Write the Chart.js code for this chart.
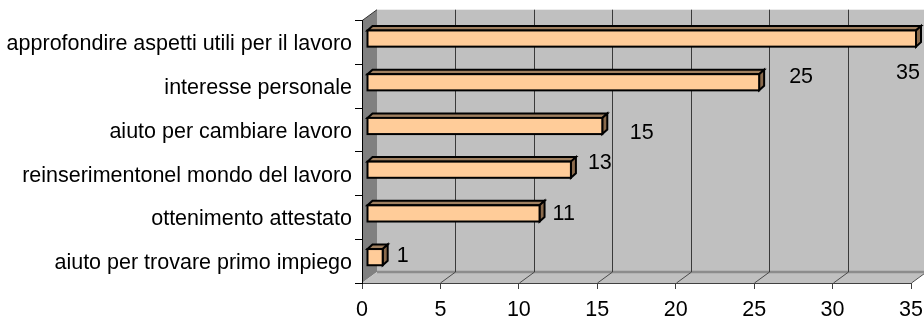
<!DOCTYPE html>
<html>
<head>
<meta charset="utf-8">
<script src="https://cdn.jsdelivr.net/npm/chart.js@4/dist/chart.umd.min.js"></script>
<style>
  html, body { margin: 0; padding: 0; background: #ffffff; }
  canvas { display: block; }
</style>
</head>
<body>
<canvas id="chart" width="924" height="320"></canvas>
<script>
// Categories, top to bottom
const categories = [
  'approfondire aspetti utili per il lavoro',
  'interesse personale',
  'aiuto per cambiare lavoro',
  'reinserimentonel mondo del lavoro',
  'ottenimento attestato',
  'aiuto per trovare primo impiego'
];
// Number of answers per category
const answers = [35, 25, 15, 13, 11, 1];
// Value axis ticks
const axisMin = 0;
const axisMax = 35;
const axisStep = 5;

const FONT = { family: "'Liberation Sans', Arial, sans-serif", size: 21.5 };

// Draws the 3D box (walls, floor, back grid), the extruded bars and their value labels
const box3d = {
  id: 'box3d',
  beforeDraw(chart, args, opts) {
    const { ctx, chartArea: a, scales: { x } } = chart;
    const dx = opts.depthX, dy = opts.depthY;
    ctx.save();
    // back wall
    ctx.fillStyle = '#c0c0c0';
    ctx.fillRect(a.left + dx, a.top + dy, a.right - a.left + 2, a.bottom - a.top);
    // left side wall
    ctx.fillStyle = '#808080';
    ctx.beginPath();
    ctx.moveTo(a.left, a.top);
    ctx.lineTo(a.left + dx, a.top + dy);
    ctx.lineTo(a.left + dx, a.bottom + dy);
    ctx.lineTo(a.left, a.bottom);
    ctx.closePath();
    ctx.fill();
    // floor
    ctx.fillStyle = '#c0c0c0';
    ctx.beginPath();
    ctx.moveTo(a.left, a.bottom);
    ctx.lineTo(a.left + dx, a.bottom + dy);
    ctx.lineTo(a.right + dx, a.bottom + dy);
    ctx.lineTo(a.right, a.bottom);
    ctx.closePath();
    ctx.fill();
    // darker edge where the floor meets the back wall
    ctx.strokeStyle = '#8c8c8c';
    ctx.lineWidth = 2.5;
    ctx.beginPath();
    ctx.moveTo(a.left + dx, a.bottom + dy);
    ctx.lineTo(a.right + dx + 2, a.bottom + dy);
    ctx.stroke();
    // back-wall grid lines and floor diagonals at each tick
    ctx.lineWidth = 1;
    x.ticks.forEach(t => {
      const px = Math.round(x.getPixelForValue(t.value)) + 0.5;
      if (t.value > axisMin && t.value < axisMax) {
        ctx.strokeStyle = '#3a3a3a';
        ctx.beginPath();
        ctx.moveTo(px + dx, a.top + dy);
        ctx.lineTo(px + dx, a.bottom + dy);
        ctx.stroke();
      }
      if (t.value > axisMin) {
        ctx.strokeStyle = '#4a4a4a';
        ctx.beginPath();
        ctx.moveTo(px, a.bottom);
        ctx.lineTo(px + dx, a.bottom + dy);
        ctx.stroke();
      }
    });
    // left wall top edge
    ctx.strokeStyle = '#303030';
    ctx.beginPath();
    ctx.moveTo(a.left, a.top);
    ctx.lineTo(a.left + dx, a.top + dy);
    ctx.stroke();
    ctx.restore();
  },
  afterDatasetsDraw(chart, args, opts) {
    const { ctx } = chart;
    const meta = chart.getDatasetMeta(0);
    const fx = opts.barShiftX, fy = opts.barShiftY;
    const bx = opts.barDepthX, by = opts.barDepthY;
    ctx.save();
    ctx.lineJoin = 'miter';
    ctx.lineWidth = 2;
    ctx.strokeStyle = '#000000';
    meta.data.forEach((bar, i) => {
      const p = bar.getProps(['x', 'y', 'base', 'height'], true);
      const l = p.base + fx, r = p.x + fx;
      const t = p.y - p.height / 2 + fy, b = p.y + p.height / 2 + fy;
      // top face
      ctx.fillStyle = opts.topColor;
      ctx.beginPath();
      ctx.moveTo(l, t);
      ctx.lineTo(l + bx, t + by);
      ctx.lineTo(r + bx, t + by);
      ctx.lineTo(r, t);
      ctx.closePath();
      ctx.fill();
      ctx.stroke();
      // end face
      ctx.fillStyle = opts.sideColor;
      ctx.beginPath();
      ctx.moveTo(r, t);
      ctx.lineTo(r + bx, t + by);
      ctx.lineTo(r + bx, b + by);
      ctx.lineTo(r, b);
      ctx.closePath();
      ctx.fill();
      ctx.stroke();
      // front face
      ctx.fillStyle = opts.frontColor;
      ctx.fillRect(l, t, r - l, b - t);
      ctx.strokeRect(l, t, r - l, b - t);
    });
    // value labels
    ctx.fillStyle = '#000000';
    ctx.font = `${FONT.size}px ${FONT.family}`;
    ctx.textAlign = 'left';
    ctx.textBaseline = 'alphabetic';
    const x = chart.scales.x, y = chart.scales.y;
    answers.forEach((v, i) => {
      const off = opts.labelOffsets[i];
      const px = x.getPixelForValue(v) + off[0];
      const py = y.getPixelForValue(i) + off[1] + FONT.size * 0.358;
      ctx.fillText(String(v), px, py);
    });
    ctx.restore();
  }
};

new Chart(document.getElementById('chart'), {
  type: 'bar',
  data: {
    labels: categories,
    datasets: [{
      data: answers,
      backgroundColor: 'rgba(0,0,0,0)',
      borderWidth: 0,
      barPercentage: 0.37,
      categoryPercentage: 1
    }]
  },
  options: {
    indexAxis: 'y',
    responsive: false,
    animation: false,
    devicePixelRatio: 1,
    layout: { padding: { top: 20.7, right: 13, bottom: 0, left: 0 } },
    plugins: {
      legend: { display: false },
      tooltip: { enabled: false },
      box3d: {
        depthX: 15, depthY: -11,
        barShiftX: 5, barShiftY: -4,
        barDepthX: 5, barDepthY: -4.5,
        frontColor: '#FFCC99',
        topColor: '#A08060',
        sideColor: '#8A6A4C',
        labelOffsets: [[-15, 29], [35, -10.5], [32.5, 1], [22, -12], [18, -5], [19, -7]]
      }
    },
    scales: {
      x: {
        type: 'linear',
        min: axisMin,
        max: axisMax,
        ticks: { stepSize: axisStep, color: '#000000', font: FONT, padding: 8, maxRotation: 0 },
        grid: { drawOnChartArea: false, tickLength: 6, color: '#404040' },
        border: { color: '#404040', width: 1 },
        afterFit(scale) {
          scale.height = 37;
          // the end labels may overhang the plot edges
          scale.paddingLeft = 0;
          scale.paddingRight = 0;
        }
      },
      y: {
        type: 'category',
        ticks: { color: '#000000', font: FONT, padding: 3, autoSkip: false, labelOffset: 2 },
        grid: { drawOnChartArea: false, offset: true, tickLength: 7, color: '#000000' },
        border: { color: '#000000', width: 1 },
        afterFit(scale) { scale.width = 362; }
      }
    }
  },
  plugins: [box3d]
});
</script>
</body>
</html>
